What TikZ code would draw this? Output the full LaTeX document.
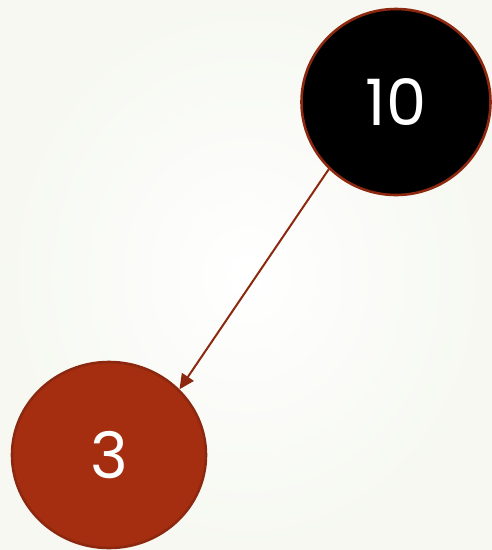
\documentclass[tikz,border=0pt]{standalone}
\usepackage{fontspec}
\setmainfont{Poppins}
\usetikzlibrary{shapes.geometric,arrows.meta}
\definecolor{edgered}{RGB}{140,40,15}
\definecolor{nodered}{RGB}{166,46,16}
\definecolor{bgouter}{RGB}{246,248,241}
\tikzset{
  treenode/.style={ellipse, draw=edgered, line width=2.6pt, inner sep=0pt,
    text=white, font=\fontsize{64}{64}\selectfont},
  link/.style={draw=edgered, line width=2pt, -{Triangle[length=15pt,width=14pt]}}
}
\begin{document}
\begin{tikzpicture}[x=1pt,y=-1pt]
\shade[inner color=white, outer color=bgouter] (0,0) rectangle (492,550);
\path[use as bounding box] (0,0) rectangle (492,550);
\node[treenode, fill=black, minimum width=189pt, minimum height=186pt] (a) at (396,102) {10};
\node[treenode, fill=nodered, minimum width=194pt, minimum height=186pt] (b) at (109,455) {3};
\path[link] (a.225) -- (b.43);
\end{tikzpicture}
\end{document}
